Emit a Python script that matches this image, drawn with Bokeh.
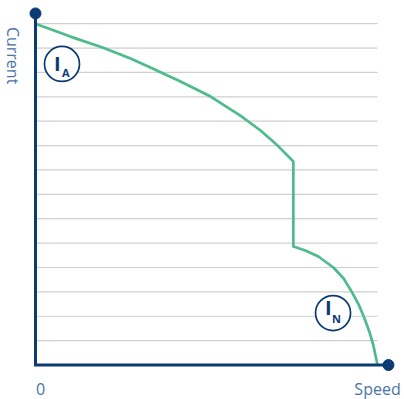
import math
from bokeh.plotting import figure
from bokeh.models import Range1d
from bokeh.core.properties import value
from bokeh.embed import file_html
from bokeh.resources import INLINE

# ---- data ----
speed = [0.0, 1.02, 1.96, 2.78, 3.36, 4.24, 5.12, 5.99, 6.58, 7.08, 7.54,
         7.54, 7.89, 8.27, 8.71, 9.01, 9.24, 9.45, 9.62, 9.77, 9.88, 10.0]
current = [14.0, 13.47, 13.02, 12.57, 12.20, 11.63, 11.01, 10.23, 9.62, 9.00, 8.35,
           4.86, 4.70, 4.45, 4.00, 3.55, 3.02, 2.48, 1.91, 1.33, 0.80, 0.0]
grid_levels = [1, 2, 3, 4, 5, 6, 7, 8, 9, 10, 11, 12, 13, 14]
x_label = "Speed"
y_label = "Current"
origin_label = "0"
markers = ["A", "N"]

NAVY = "#0c3a72"
GREEN = "#4dbb8b"
TEXT = "#4874a6"
GRID = "#cfcfcf"
FONT = "Open Sans"

p = figure(width=404, height=399, output_backend="svg", toolbar_location=None,
           x_range=Range1d(-1.023, 10.789), y_range=Range1d(-1.415, 14.951),
           min_border=0, background_fill_color="white", border_fill_color="white")
p.outline_line_color = None
p.axis.visible = False
p.grid.visible = False

x_end = max(speed)
p.segment(x0=[0] * len(grid_levels), x1=[x_end] * len(grid_levels),
          y0=grid_levels, y1=grid_levels, line_color=GRID, line_width=1.2)

p.line(speed, current, line_color=GREEN, line_width=2.7, line_join="round")

# axes
y_top = 14.42
x_right = 10.32
p.line([0, 0, x_right], [y_top, 0, 0], line_color=NAVY, line_width=3, line_join="miter")
p.scatter([0, x_right], [y_top, 0], size=11, color=NAVY)

# labels
p.text([-0.643], [12.69], text=[y_label], angle=-math.pi / 2, text_align="center",
       text_baseline="middle", text_font=value(FONT), text_font_size="16px", text_color=TEXT)
p.text([0.146], [-0.964], text=[origin_label], text_align="center", text_baseline="middle",
       text_font=value(FONT), text_font_size="16px", text_color=TEXT)
p.text([10.0], [-0.964], text=[x_label], text_align="center", text_baseline="middle",
       text_font=value(FONT), text_font_size="16px", text_color=TEXT)

# circled markers
cx = [0.775, 8.70]
cy = [12.35, 2.13]
p.scatter(cx, cy, size=35, marker="circle", fill_color="white", line_color=NAVY, line_width=1.7)
p.text([c - 0.14 for c in cx], [12.37, 2.36], text=["I", "I"], text_align="center",
       text_baseline="middle", text_font=value(FONT), text_font_size="20px",
       text_font_style="bold", text_color=NAVY)
p.text([0.885, 8.80], [11.98, 1.91], text=markers, text_align="center",
       text_baseline="middle", text_font=value(FONT), text_font_size="11px",
       text_font_style="bold", text_color=NAVY)

open("out.html", "w").write(file_html(p, INLINE))
